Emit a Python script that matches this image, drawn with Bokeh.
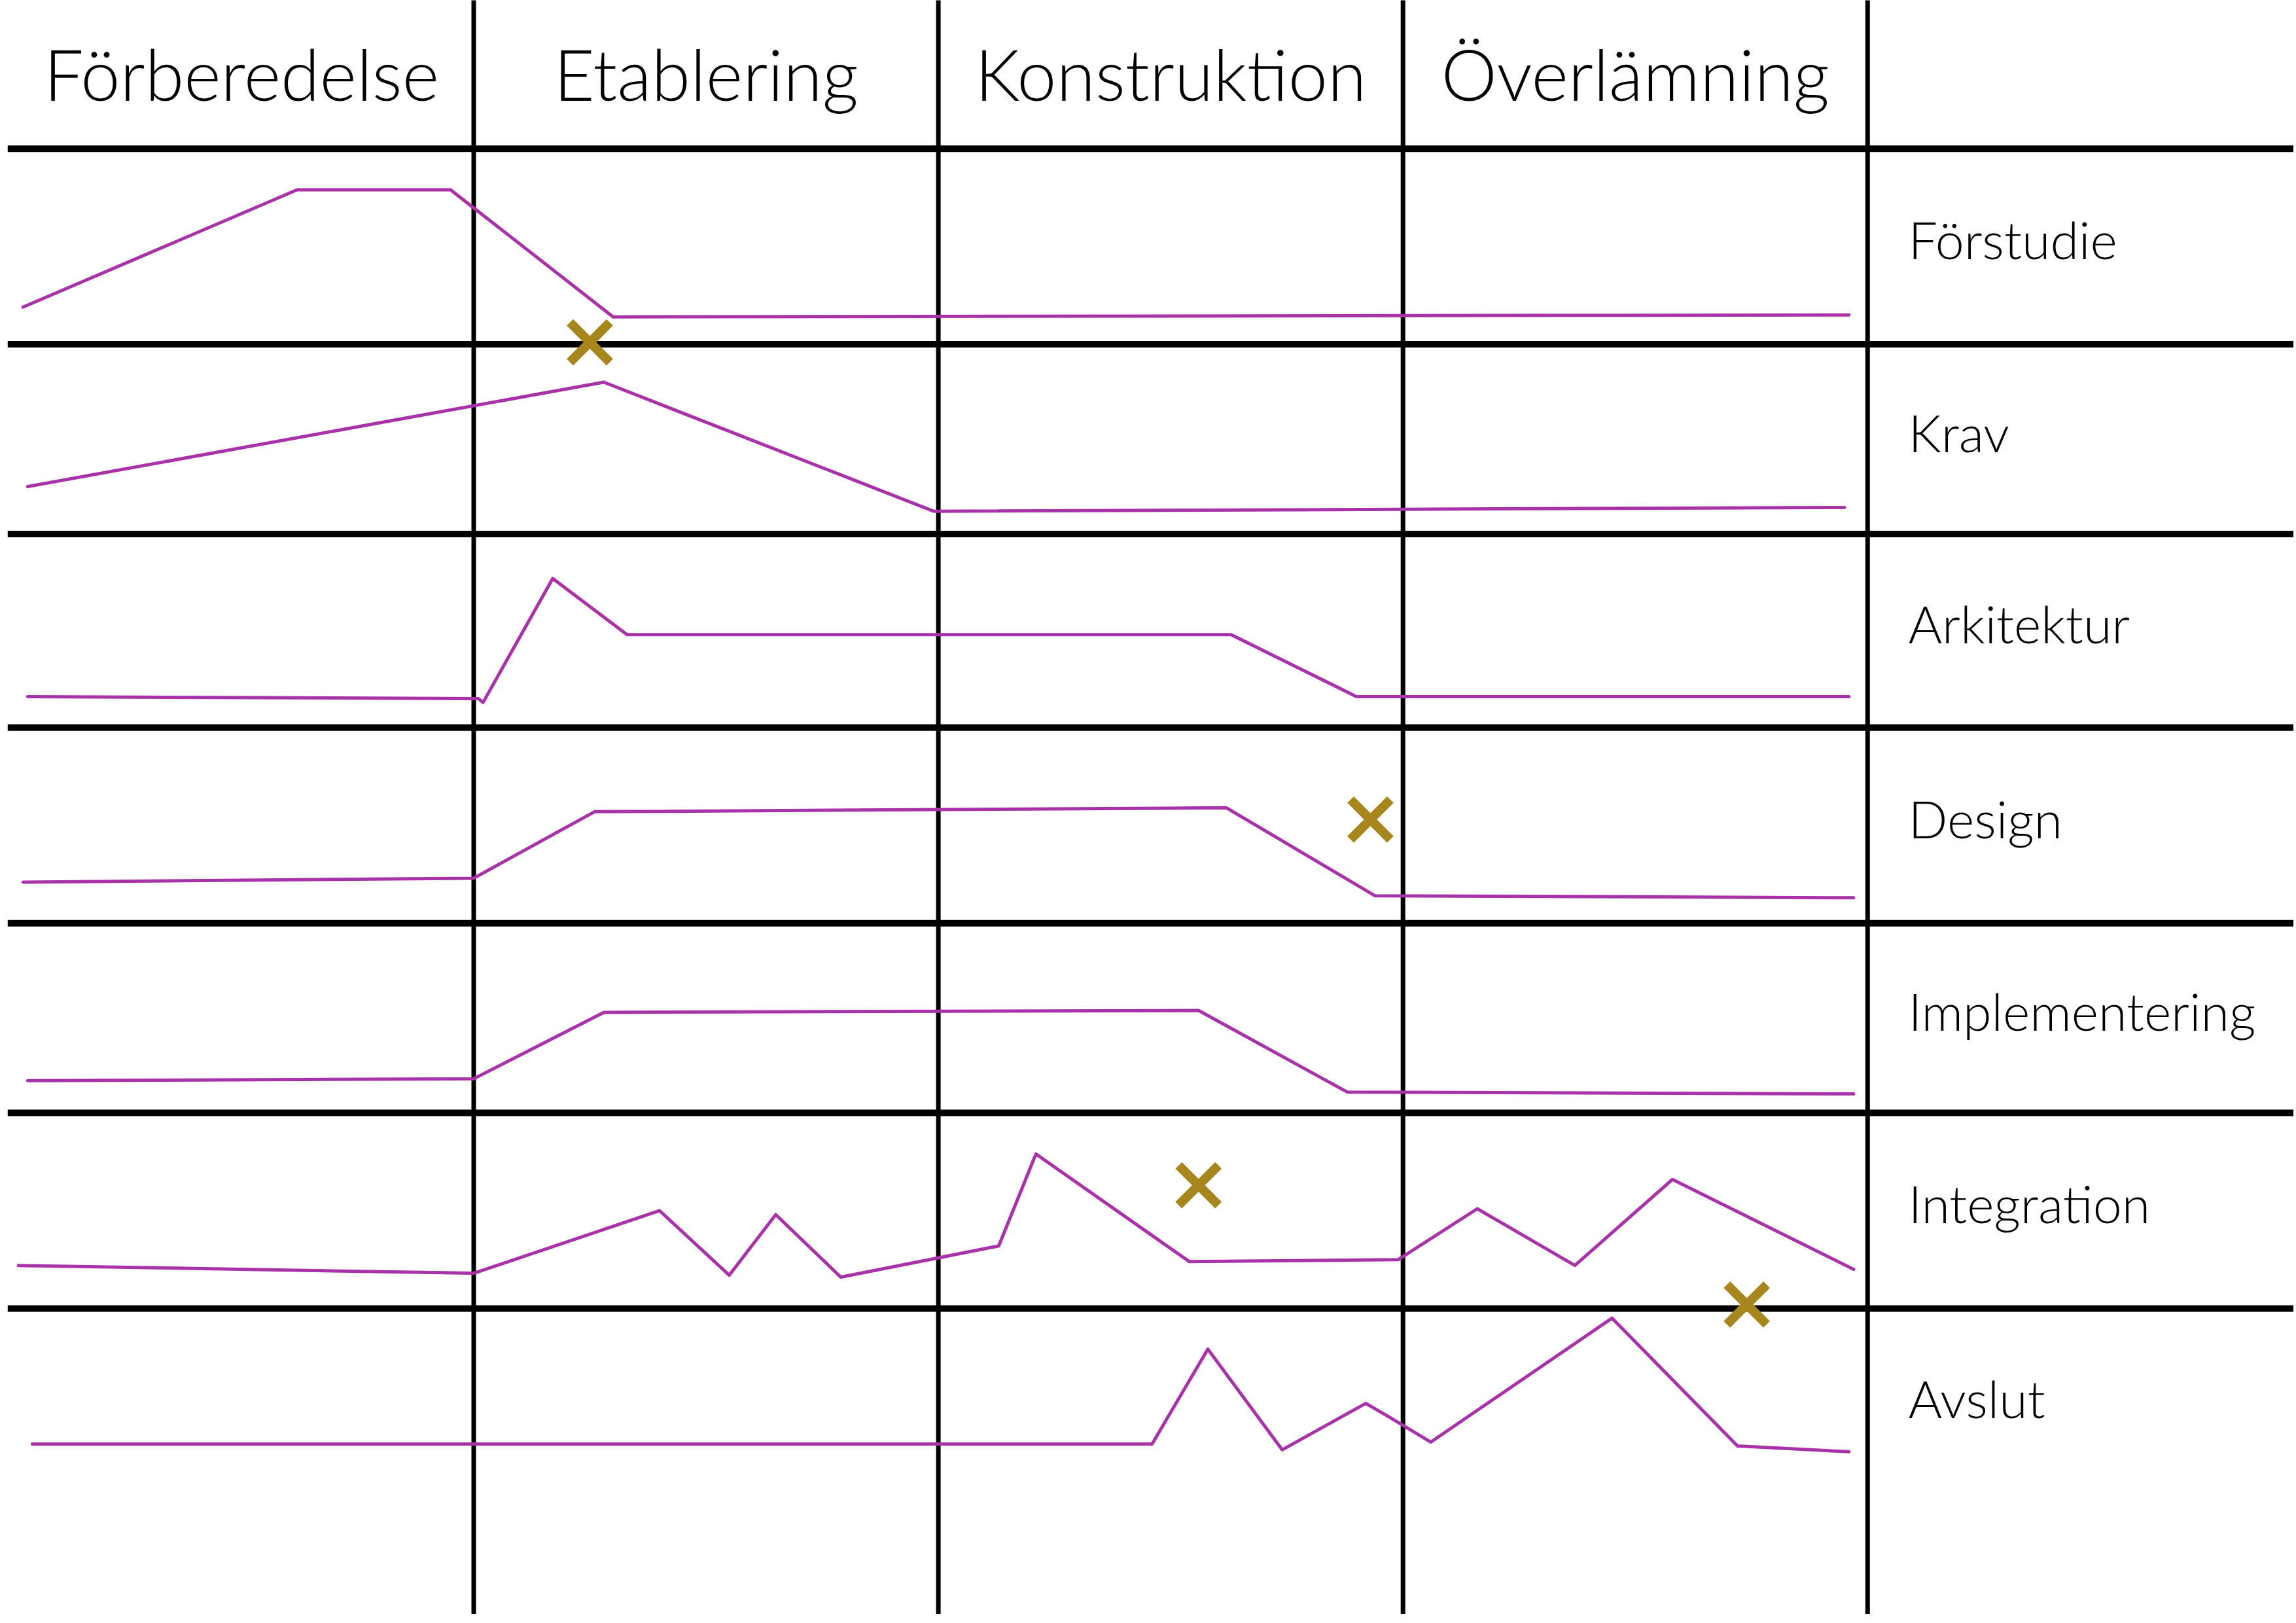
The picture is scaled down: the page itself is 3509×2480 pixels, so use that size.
from bokeh.plotting import figure
from bokeh.models import Range1d, ColumnDataSource
from bokeh.core.properties import value
from bokeh.embed import file_html
from bokeh.resources import INLINE

# ---------------- data ----------------
phases = ["Förberedelse", "Etablering", "Konstruktion", "Överlämning"]
activities = ["Förstudie", "Krav", "Arkitektur", "Design",
              "Implementering", "Integration", "Avslut"]

# time in phase units (0..4), level = activity intensity within its row (0..1)
forstudie_t = [0.03, 0.62, 0.95, 1.30, 3.96]
forstudie_v = [0.19, 0.79, 0.79, 0.14, 0.15]

krav_t = [0.04, 1.28, 1.99, 3.95]
krav_v = [0.25, 0.80, 0.12, 0.14]

arkitektur_t = [0.04, 1.01, 1.02, 1.17, 1.33, 2.63, 2.90, 3.96]
arkitektur_v = [0.16, 0.15, 0.13, 0.77, 0.48, 0.48, 0.16, 0.16]

design_t = [0.03, 1.00, 1.26, 2.62, 2.94, 3.97]
design_v = [0.21, 0.23, 0.57, 0.59, 0.14, 0.13]

implementering_t = [0.04, 1.00, 1.28, 2.56, 2.88, 3.97]
implementering_v = [0.17, 0.18, 0.53, 0.54, 0.11, 0.10]

integration_t = [0.02, 1.00, 1.40, 1.55, 1.65, 1.79, 2.13, 2.21, 2.54, 2.99,
                 3.16, 3.37, 3.58, 3.97]
integration_v = [0.22, 0.18, 0.50, 0.17, 0.48, 0.16, 0.32, 0.79, 0.24, 0.25,
                 0.51, 0.22, 0.66, 0.20]

avslut_t = [0.05, 2.46, 2.58, 2.74, 2.92, 2.97, 3.06, 3.45, 3.72, 3.96]
avslut_v = [0.30, 0.30, 0.79, 0.27, 0.51, 0.44, 0.31, 0.95, 0.29, 0.26]

# milestones (X marks)
milestone_t = [1.25, 2.93, 2.56, 3.74]
milestone_row = ["Förstudie", "Design", "Integration", "Integration"]
milestone_v = [0.01, 0.53, 0.63, 0.02]

series_t = [forstudie_t, krav_t, arkitektur_t, design_t,
            implementering_t, integration_t, avslut_t]
series_v = [forstudie_v, krav_v, arkitektur_v, design_v,
            implementering_v, integration_v, avslut_v]

# ---------------- layout ----------------
# row boundaries in row units (y grows downward); last one = nominal bottom of Avslut
row_edges = [0.01, 1.02, 2.00, 3.00, 4.01, 4.99, 6.00, 7.00]

PURPLE = "#A832A8"
GOLD = "#A8861E"
FONT = value("'Lato Light', Lato, sans-serif")

p = figure(width=3505, height=2476, output_backend="svg", toolbar_location=None,
           x_range=Range1d(-0.0189, 4.9171), y_range=Range1d(7.6127, -0.7564),
           x_axis_location=None, y_axis_location=None, min_border=0,
           background_fill_color="white", border_fill_color="white")
p.grid.visible = False
p.outline_line_color = None

# horizontal grid lines (all row edges except nominal bottom)
h_y = row_edges[:-1]
p.segment(x0=[-0.003] * len(h_y), y0=h_y, x1=[4.95] * len(h_y), y1=h_y,
          line_color="black", line_width=10)
# vertical phase separators
v_x = [1, 2, 3, 4]
p.segment(x0=v_x, y0=[-0.8] * 4, x1=v_x, y1=[7.577] * 4,
          line_color="black", line_width=7)


def row_y(row_index, levels):
    top = row_edges[row_index]
    bottom = row_edges[row_index + 1]
    return [bottom - v * (bottom - top) for v in levels]


for i, (t, v) in enumerate(zip(series_t, series_v)):
    p.line(x=t, y=row_y(i, v), line_color=PURPLE, line_width=5,
           line_join="round", line_cap="round")

ms_y = [row_y(activities.index(r), [v])[0] for r, v in zip(milestone_row, milestone_v)]
p.scatter(x=milestone_t, y=ms_y, marker="x", size=86, line_color=GOLD,
          line_width=14)

# phase headers
head_src = ColumnDataSource(dict(x=[i + 0.5 for i in range(len(phases))],
                                 y=[-0.38] * len(phases), text=phases))
p.text(x="x", y="y", text="text", source=head_src, text_font=FONT,
       text_font_size="108px", text_align="center", text_baseline="alphabetic",
       text_color="black")

# activity labels
lab_y = [row_edges[i] + 0.463 * (row_edges[i + 1] - row_edges[i])
         for i in range(len(activities))]
lab_src = ColumnDataSource(dict(x=[4.0876] * len(activities), y=lab_y,
                                text=activities))
p.text(x="x", y="y", text="text", source=lab_src, text_font=FONT,
       text_font_size="79px", text_align="left", text_baseline="alphabetic",
       text_color="black")

open("out.html", "w").write(file_html(p, INLINE))
